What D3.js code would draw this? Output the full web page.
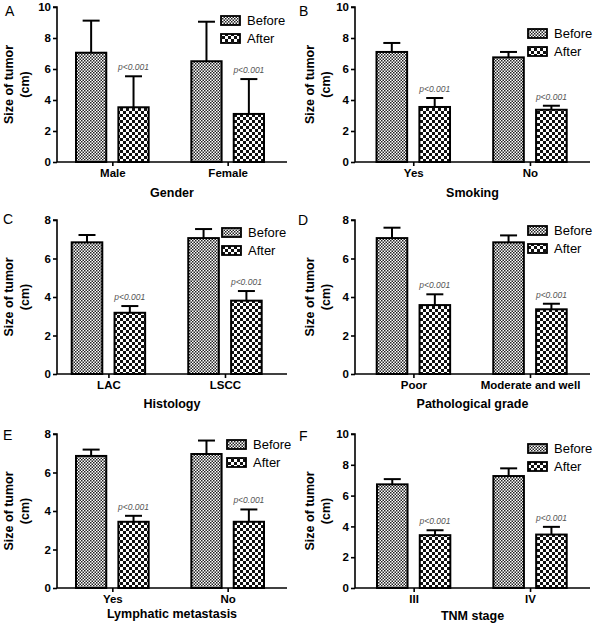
<!DOCTYPE html>
<html><head><meta charset="utf-8">
<script src="https://cdn.jsdelivr.net/npm/d3@7"></script>
<style>body{margin:0;background:#fff}svg{display:block}text{font-family:Arial,"Liberation Sans",sans-serif}</style>
</head><body><svg id="c" width="596" height="629"></svg>
<script>
// ---- data ----
const series = ["Before", "After"];
const catsA = ["Male", "Female"];
const beforeA = [7.05, 6.5], beforeSdA = [2.07, 2.55];
const afterA = [3.53, 3.1], afterSdA = [2.0, 2.25];
const catsB = ["Yes", "No"];
const beforeB = [7.1, 6.75], beforeSdB = [0.58, 0.35];
const afterB = [3.55, 3.37], afterSdB = [0.58, 0.26];
const catsC = ["LAC", "LSCC"];
const beforeC = [6.84, 7.06], beforeSdC = [0.38, 0.47];
const afterC = [3.18, 3.81], afterSdC = [0.35, 0.5];
const catsD = ["Poor", "Moderate and well"];
const beforeD = [7.06, 6.84], beforeSdD = [0.54, 0.36];
const afterD = [3.58, 3.36], afterSdD = [0.56, 0.29];
const catsE = ["Yes", "No"];
const beforeE = [6.86, 6.96], beforeSdE = [0.33, 0.7];
const afterE = [3.44, 3.44], afterSdE = [0.31, 0.64];
const catsF = ["III", "IV"];
const beforeF = [6.73, 7.27], beforeSdF = [0.34, 0.5];
const afterF = [3.43, 3.47], afterSdF = [0.32, 0.5];
const ticks10 = [0, 2, 4, 6, 8, 10];
const ticks8 = [0, 2, 4, 6, 8];
const pLabel = "p<0.001";
const yTitle = ["Size of tumor", "(cm)"];

// ---- layout ----
const panels = [
  {letter:"A", title:"Gender", cats:catsA, b:beforeA, bs:beforeSdA, a:afterA, as:afterSdA, ticks:ticks10,
   x0:57, x1:287, yT:7, yB:162, gL:76, gR:264, lx:221, ly:16, titleOff:31, lX:5, lY:16, tx:[9,25]},
  {letter:"B", title:"Smoking", cats:catsB, b:beforeB, bs:beforeSdB, a:afterB, as:afterSdB, ticks:ticks10,
   x0:355, x1:590, yT:7, yB:162, gL:376.5, gR:566.7, lx:528, ly:29, titleOff:31, lX:299, lY:16, tx:[310,326]},
  {letter:"C", title:"Histology", cats:catsC, b:beforeC, bs:beforeSdC, a:afterC, as:afterSdC, ticks:ticks8,
   x0:57, x1:287, yT:220, yB:374, gL:71.7, gR:261.7, lx:222, ly:228, titleOff:30, lX:3, lY:224, tx:[9,25]},
  {letter:"D", title:"Pathological grade", cats:catsD, b:beforeD, bs:beforeSdD, a:afterD, as:afterSdD, ticks:ticks8,
   x0:355, x1:590, yT:220, yB:374, gL:376.7, gR:566.7, lx:528, ly:226, titleOff:30, lX:298, lY:225, tx:[310,326]},
  {letter:"E", title:"Lymphatic metastasis", cats:catsE, b:beforeE, bs:beforeSdE, a:afterE, as:afterSdE, ticks:ticks8,
   x0:57, x1:287, yT:434, yB:588, gL:76, gR:264, lx:227, ly:440, titleOff:26, lX:3, lY:440, tx:[9,25]},
  {letter:"F", title:"TNM stage", cats:catsF, b:beforeF, bs:beforeSdF, a:afterF, as:afterSdF, ticks:ticks10,
   x0:355, x1:590, yT:434, yB:588, gL:377, gR:566.7, lx:528, ly:444, titleOff:28, lX:299, lY:441, tx:[310,326]}
];

const svg = d3.select("#c");
const defs = svg.append("defs");
// Before: fine checker
const p1 = defs.append("pattern").attr("id","pBefore").attr("patternUnits","userSpaceOnUse").attr("width",3).attr("height",3);
p1.append("rect").attr("width",3).attr("height",3).attr("fill","#fff");
p1.append("rect").attr("width",1.5).attr("height",1.5).attr("fill","#222");
p1.append("rect").attr("x",1.5).attr("y",1.5).attr("width",1.5).attr("height",1.5).attr("fill","#222");
// After: coarse checker
const p2 = defs.append("pattern").attr("id","pAfter").attr("patternUnits","userSpaceOnUse").attr("width",6).attr("height",6);
p2.append("rect").attr("width",6).attr("height",6).attr("fill","#fff");
p2.append("rect").attr("width",3).attr("height",3).attr("fill","#111");
p2.append("rect").attr("x",3).attr("y",3).attr("width",3).attr("height",3).attr("fill","#111");
const fills = {Before:"url(#pBefore)", After:"url(#pAfter)"};

panels.forEach(p => {
  const g = svg.append("g");
  const ymax = d3.max(p.ticks);
  const y = d3.scaleLinear().domain([0, ymax]).range([p.yB, p.yT]);
  const x = d3.scaleBand().domain(p.cats).range([p.gL, p.gR]).paddingInner(0.37).paddingOuter(0);
  const xs = d3.scaleBand().domain(series).range([0, x.bandwidth()]).paddingInner(0.286);

  const rows = [];
  p.cats.forEach((c, i) => {
    rows.push({cat:c, s:"Before", v:p.b[i], sd:p.bs[i]});
    rows.push({cat:c, s:"After", v:p.a[i], sd:p.as[i]});
  });

  // error bars
  rows.forEach(r => {
    const cx = x(r.cat) + xs(r.s) + xs.bandwidth()/2;
    g.append("line").attr("x1",cx).attr("x2",cx).attr("y1",y(r.v)).attr("y2",y(r.v + r.sd))
      .attr("stroke","#000").attr("stroke-width",2);
    g.append("line").attr("x1",cx-8.5).attr("x2",cx+8.5).attr("y1",y(r.v + r.sd)).attr("y2",y(r.v + r.sd))
      .attr("stroke","#000").attr("stroke-width",2);
    if (r.s === "After") {
      g.append("text").attr("x",cx).attr("y",y(r.v + r.sd) - 6).attr("text-anchor","middle")
        .attr("font-size",8.5).attr("font-style","italic").attr("fill","#555").text(pLabel);
    }
  });
  // bars
  g.selectAll("rect.bar").data(rows).join("rect").attr("class","bar")
    .attr("x", d => x(d.cat) + xs(d.s)).attr("width", xs.bandwidth())
    .attr("y", d => y(d.v)).attr("height", d => y(0) - y(d.v))
    .attr("fill", d => fills[d.s]).attr("stroke","#000").attr("stroke-width",2);

  // y axis
  const ya = g.append("g").attr("transform",`translate(${p.x0},0)`)
    .call(d3.axisLeft(y).tickValues(p.ticks).tickSize(4).tickPadding(2).tickFormat(d3.format("d")));
  ya.select(".domain").attr("stroke-width",1.6).attr("d",`M-4,${p.yT}H0V${p.yB}`);
  ya.selectAll(".tick line").attr("stroke-width",1.6);
  ya.selectAll(".tick text").attr("font-size",11.5).attr("font-weight","bold").attr("fill","#000")
    .style("font-family","Arial, 'Liberation Sans', sans-serif");

  // x axis
  const xc = d3.scalePoint().domain(p.cats).range([x(p.cats[0]) + x.bandwidth()/2, x(p.cats[1]) + x.bandwidth()/2]);
  const xa = g.append("g").attr("transform",`translate(0,${p.yB})`)
    .call(d3.axisBottom(xc).tickSize(4).tickPadding(3));
  xa.select(".domain").attr("stroke-width",1.6).attr("d",`M${p.x0},0H${p.x1}`);
  xa.selectAll(".tick line").attr("stroke-width",1.6);
  xa.selectAll(".tick text").attr("font-size",11.5).attr("font-weight","bold").attr("fill","#000")
    .style("font-family","Arial, 'Liberation Sans', sans-serif");

  // x title
  g.append("text").attr("x",(p.x0+p.x1)/2).attr("y",p.yB + p.titleOff).attr("dy","0.35em")
    .attr("text-anchor","middle").attr("font-size",12.5).attr("font-weight","bold").text(p.title);
  // y title
  const cy = (p.yT + p.yB)/2;
  yTitle.forEach((t, i) => {
    g.append("text").attr("transform",`translate(${p.tx[i]},${cy}) rotate(-90)`).attr("dy","0.35em")
      .attr("text-anchor","middle").attr("font-size",12.5).attr("font-weight","bold").text(t);
  });
  // panel letter
  g.append("text").attr("x",p.lX).attr("y",p.lY).attr("font-size",14).text(p.letter);

  // legend
  series.forEach((s, i) => {
    const ly = p.ly + i*18;
    g.append("rect").attr("x",p.lx).attr("y",ly).attr("width",19).attr("height",9)
      .attr("fill",fills[s]).attr("stroke","#000").attr("stroke-width",1.8);
    g.append("text").attr("x",p.lx+26).attr("y",ly+4.5).attr("dy","0.36em")
      .attr("font-size",13).text(s);
  });
});
</script></body></html>
